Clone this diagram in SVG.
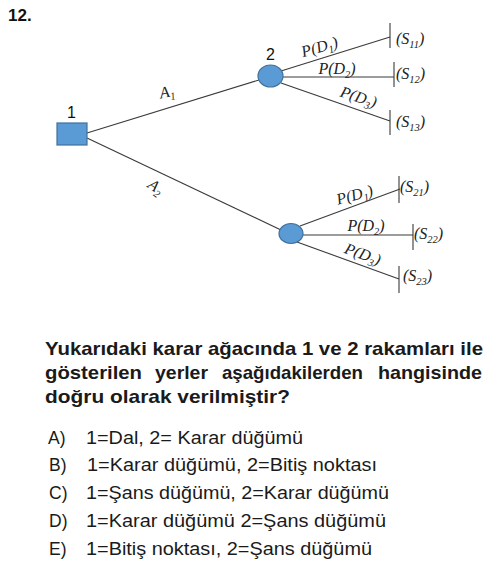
<svg xmlns="http://www.w3.org/2000/svg" width="500" height="568" viewBox="0 0 500 568">
<style>
.ln{stroke:#3a3a3a;stroke-width:1.1;fill:none}
.nd{fill:#5B9BD5;stroke:#41719C;stroke-width:1.2}
.lbl{font-family:"Liberation Serif",serif;font-style:italic;font-size:16px;fill:#222}
.sub{font-size:10.5px}
.num{font-family:"Liberation Sans",Arial,sans-serif;font-size:16px;fill:#111}
.q{font-family:"Liberation Sans",Arial,sans-serif;font-weight:bold;font-size:18.5px;fill:#1a1a1a}
.o{font-family:"Liberation Sans",Arial,sans-serif;font-size:17.5px;fill:#1a1a1a}
</style>
<rect width="500" height="568" fill="#fff"/>
<text x="8" y="21" font-family="Liberation Sans, Arial, sans-serif" font-weight="bold" font-size="17" fill="#111">12.</text>
<g id="connectors">
<line class="ln" x1="87" y1="133" x2="259" y2="80"/>
<line class="ln" x1="87" y1="138" x2="281" y2="230"/>
<line class="ln" x1="281" y1="71" x2="390" y2="37"/>
<line class="ln" x1="283" y1="77" x2="394" y2="77"/>
<line class="ln" x1="281" y1="83" x2="390" y2="121"/>
<line class="ln" x1="390" y1="23" x2="390" y2="48"/>
<line class="ln" x1="394" y1="62" x2="394" y2="87"/>
<line class="ln" x1="390" y1="110" x2="390" y2="135"/>
<line class="ln" x1="300" y1="226" x2="400" y2="189"/>
<line class="ln" x1="303" y1="235" x2="413" y2="235"/>
<line class="ln" x1="297" y1="242" x2="399" y2="279"/>
<line class="ln" x1="399" y1="176" x2="399" y2="203"/>
<line class="ln" x1="413" y1="224" x2="413" y2="250"/>
<line class="ln" x1="399" y1="266" x2="399" y2="293"/>
<text class="lbl" transform="translate(168,97) rotate(-12)" text-anchor="middle">A<tspan class="sub" dy="3.5">1</tspan></text>
<text class="lbl" transform="translate(153,191) rotate(35)" text-anchor="middle">A<tspan class="sub" dy="3.5">2</tspan></text>
<text class="lbl" transform="translate(321,52) rotate(-16)" text-anchor="middle">P(D<tspan class="sub" dy="3.5">1</tspan><tspan dy="-3.5">)</tspan></text>
<text class="lbl" x="337" y="74" text-anchor="middle">P(D<tspan class="sub" dy="3.5">2</tspan><tspan dy="-3.5">)</tspan></text>
<text class="lbl" transform="translate(357,102) rotate(18)" text-anchor="middle">P(D<tspan class="sub" dy="3.5">3</tspan><tspan dy="-3.5">)</tspan></text>
<text class="lbl" x="396" y="44">(S<tspan class="sub" dy="3.5">11</tspan><tspan dy="-3.5">)</tspan></text>
<text class="lbl" x="396" y="79">(S<tspan class="sub" dy="3.5">12</tspan><tspan dy="-3.5">)</tspan></text>
<text class="lbl" x="396" y="127">(S<tspan class="sub" dy="3.5">13</tspan><tspan dy="-3.5">)</tspan></text>
<text class="lbl" transform="translate(356,200) rotate(-15)" text-anchor="middle">P(D<tspan class="sub" dy="3.5">1</tspan><tspan dy="-3.5">)</tspan></text>
<text class="lbl" x="366" y="231" text-anchor="middle">P(D<tspan class="sub" dy="3.5">2</tspan><tspan dy="-3.5">)</tspan></text>
<text class="lbl" transform="translate(361,259) rotate(20)" text-anchor="middle">P(D<tspan class="sub" dy="3.5">3</tspan><tspan dy="-3.5">)</tspan></text>
<text class="lbl" x="400" y="192">(S<tspan class="sub" dy="3.5">21</tspan><tspan dy="-3.5">)</tspan></text>
<text class="lbl" x="414" y="239">(S<tspan class="sub" dy="3.5">22</tspan><tspan dy="-3.5">)</tspan></text>
<text class="lbl" x="403" y="281">(S<tspan class="sub" dy="3.5">23</tspan><tspan dy="-3.5">)</tspan></text>
</g>
<g id="node1">
<rect class="nd" x="57" y="123" width="30" height="22"/>
<text class="num" x="67" y="118">1</text>
</g>
<g id="node2">
<ellipse class="nd" cx="270.5" cy="76" rx="12.5" ry="11"/>
<text class="num" x="266" y="60">2</text>
</g>
<g id="node3">
<ellipse class="nd" cx="291" cy="233.5" rx="12" ry="10"/>
</g>
<g id="question">
<text class="q" x="45" y="355" textLength="438" lengthAdjust="spacingAndGlyphs">Yukarıdaki karar ağacında 1 ve 2 rakamları ile</text>
<text class="q" x="45" y="379" textLength="97" lengthAdjust="spacingAndGlyphs">gösterilen</text>
<text class="q" x="155" y="379" textLength="53" lengthAdjust="spacingAndGlyphs">yerler</text>
<text class="q" x="222" y="379" textLength="141" lengthAdjust="spacingAndGlyphs">aşağıdakilerden</text>
<text class="q" x="378" y="379" textLength="104" lengthAdjust="spacingAndGlyphs">hangisinde</text>
<text class="q" x="45" y="403" textLength="245" lengthAdjust="spacingAndGlyphs">doğru olarak verilmiştir?</text>
</g>
<g id="options">
<text class="o" x="48" y="444">A)</text>
<text class="o" x="86" y="444" textLength="217" lengthAdjust="spacingAndGlyphs">1=Dal, 2= Karar düğümü</text>
<text class="o" x="49" y="471">B)</text>
<text class="o" x="87" y="471" textLength="290" lengthAdjust="spacingAndGlyphs">1=Karar düğümü, 2=Bitiş noktası</text>
<text class="o" x="49" y="499">C)</text>
<text class="o" x="86" y="499" textLength="303" lengthAdjust="spacingAndGlyphs">1=Şans düğümü, 2=Karar düğümü</text>
<text class="o" x="49" y="527">D)</text>
<text class="o" x="86" y="527" textLength="300" lengthAdjust="spacingAndGlyphs">1=Karar düğümü 2=Şans düğümü</text>
<text class="o" x="49" y="555">E)</text>
<text class="o" x="86" y="555" textLength="286" lengthAdjust="spacingAndGlyphs">1=Bitiş noktası, 2=Şans düğümü</text>
</g>
</svg>
